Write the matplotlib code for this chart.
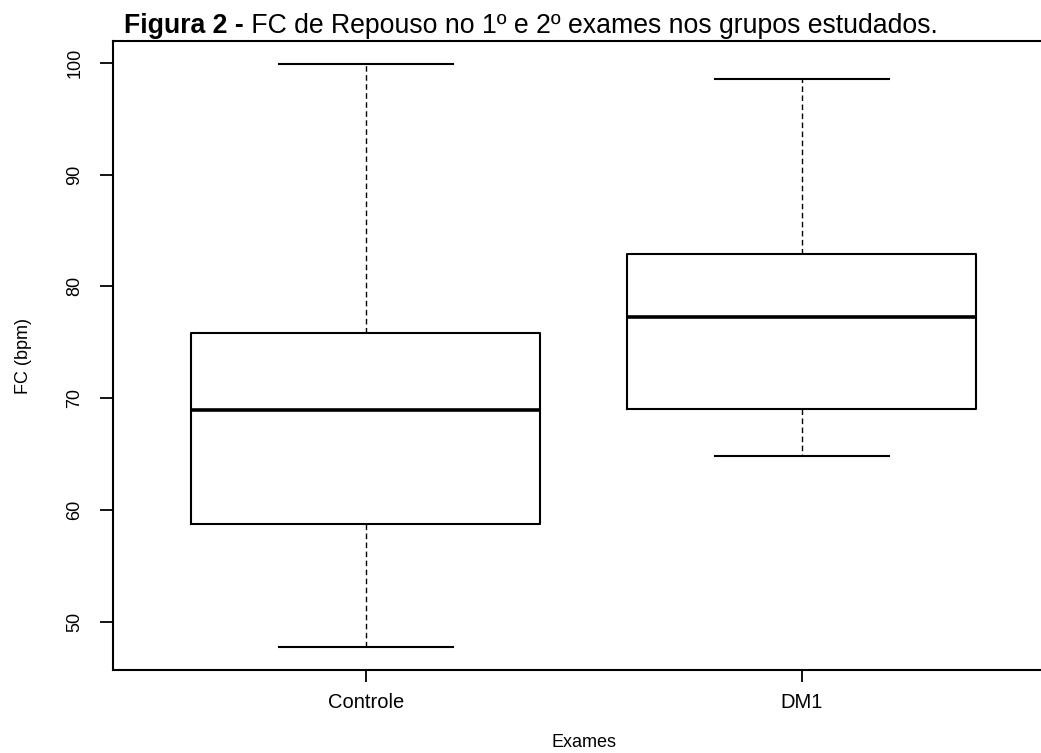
import matplotlib
matplotlib.use("Agg")
import matplotlib.pyplot as plt

plt.rcParams['font.family'] = ['Liberation Sans', 'DejaVu Sans']

# Data
groups = ["Controle", "DM1"]
whisker_low = [47.8, 64.8]
q1 = [58.8, 69.05]
median = [68.95, 77.3]
q3 = [75.85, 82.9]
whisker_high = [99.85, 98.57]
y_ticks = [50, 60, 70, 80, 90, 100]

title_bold = "Figura 2 -"
title_rest = " FC de Repouso no 1º e 2º exames nos grupos estudados."
x_label = "Exames"
y_label = "FC (bpm)"

W, H = 1041, 753
fig = plt.figure(figsize=(W / 100, H / 100), dpi=100)
ax = fig.add_axes([113 / W, 1 - 670 / H, (1054.6 - 113) / W, (670 - 41) / H])

stats = []
for i, g in enumerate(groups):
    stats.append(dict(label=g, whislo=whisker_low[i], q1=q1[i], med=median[i],
                      q3=q3[i], whishi=whisker_high[i], fliers=[]))

positions = list(range(1, len(groups) + 1))
ax.bxp(stats, positions=positions, widths=0.8, showfliers=False,
       boxprops=dict(color='black', linewidth=1.5),
       medianprops=dict(color='black', linewidth=2.6, solid_capstyle='butt'),
       whiskerprops=dict(color='black', linewidth=1.0, linestyle=(0, (4, 2.5))),
       capprops=dict(color='black', linewidth=1.5),
       capwidths=0.4)

# R default extents: x 0.5..n+0.5 extended 4%, y data range extended 4%
ymin, ymax = min(whisker_low), max(whisker_high)
rng = ymax - ymin
ax.set_ylim(ymin - 0.04 * rng, ymax + 0.04 * rng)
ax.set_xlim(0.5 - 0.08, len(groups) + 0.5 + 0.08)

ax.set_xticks(positions)
ax.set_xticklabels(groups, fontsize=14.5)
ax.set_yticks(y_ticks)
ax.set_yticklabels([str(v) for v in y_ticks], fontsize=13, rotation=90, va='center')

ax.tick_params(axis='x', length=8.6, width=1.3, pad=8, colors='black')
ax.tick_params(axis='y', length=9.4, width=1.3, pad=12, colors='black')

for s in ax.spines.values():
    s.set_linewidth(1.5)
    s.set_color('black')

ax.set_xlabel(x_label, fontsize=13, va='baseline')
ax.xaxis.set_label_coords(0.5, (670 - 747) / (670 - 41))
ax.set_ylabel(y_label, fontsize=13, va='center')
ax.yaxis.set_label_coords((23 - 113) / (1054.6 - 113), 0.5)

t1 = fig.text(124 / W, 1 - 33 / H, title_bold, fontsize=19.2, fontweight='bold',
              ha='left', va='baseline')
fig.canvas.draw()
bb = t1.get_window_extent()
fig.text(bb.x1 / W, 1 - 33 / H, title_rest, fontsize=19.2, ha='left', va='baseline')

fig.savefig("out.png", dpi=100)
